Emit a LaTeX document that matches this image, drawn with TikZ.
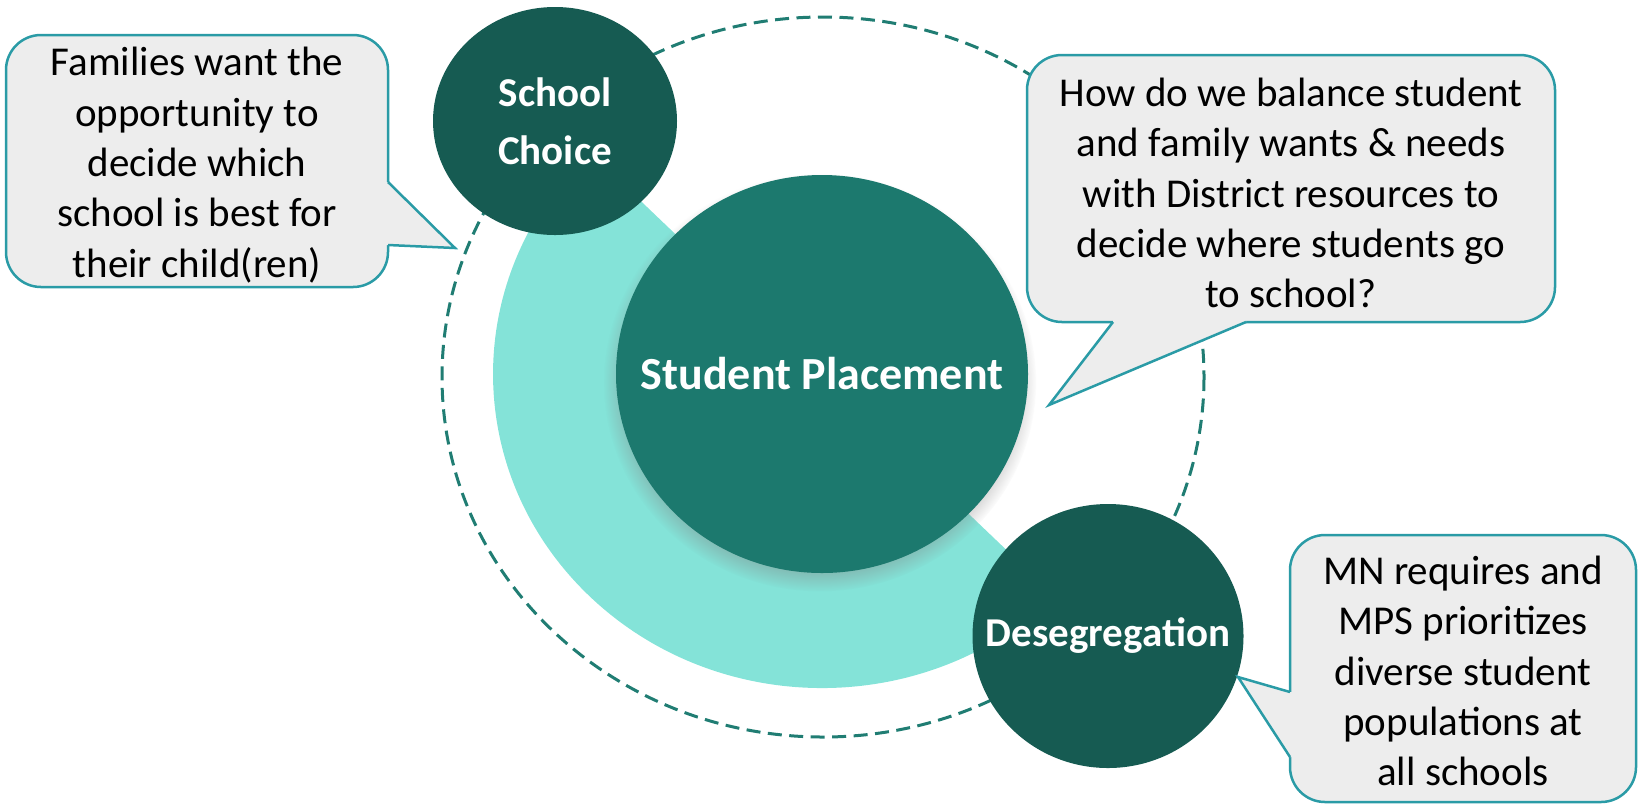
\documentclass[tikz,border=0pt]{standalone}
\usepackage{fontspec}
\setmainfont{Carlito}
\usetikzlibrary{shapes.geometric,shadows}
\definecolor{darkteal}{RGB}{22,91,82}
\definecolor{midteal}{RGB}{28,121,110}
\definecolor{lightteal}{RGB}{132,227,216}
\definecolor{dashteal}{RGB}{32,125,115}
\definecolor{bubbleline}{RGB}{42,155,166}
\definecolor{bubblefill}{RGB}{237,237,237}
\begin{document}
\begin{tikzpicture}[x=0.5pt,y=-0.5pt,
  bubble/.style={draw=bubbleline, fill=bubblefill, line width=1.25pt,
    rounded corners=17.5pt, inner sep=0pt},
  bubbletext/.style={align=center, text=black, inner sep=0pt,
    font=\fontsize{20.5}{25.2}\selectfont},
  tailfill/.style={fill=bubblefill},
  tailline/.style={draw=bubbleline, line width=1.25pt, line join=miter},
  topic/.style={ellipse, fill=darkteal, inner sep=0pt},
  topictext/.style={align=center, text=white, inner sep=0pt,
    font=\fontsize{20.5}{29}\selectfont\bfseries},
  hubstyle/.style={ellipse, fill=midteal, inner sep=0pt,
    circular drop shadow={shadow xshift=-1pt, shadow yshift=-4pt, shadow scale=1.05, opacity=0.6}},
  hubtext/.style={text=white, inner sep=0pt, font=\fontsize{23}{27}\selectfont\bfseries},
  ring/.style={draw=dashteal, line width=1.5pt, dash pattern=on 7pt off 3.75pt}
]
\useasboundingbox (0,0) rectangle (1642,805);

% dashed outer ring
\draw[ring] (823,377) ellipse [x radius=381, y radius=360];

% light teal half ring
\fill[lightteal] (589.4,152.0) arc[start angle=225, end angle=45, x radius=329, y radius=314]
  -- (928.1,475.1) arc[start angle=45, end angle=225, x radius=150, y radius=143] -- cycle;

% central hub
\node[hubstyle, minimum width=206pt, minimum height=199pt] (place) at (822,374) {};
\node[hubtext] (placeText) at (place.center) {Student Placement};

% topic circles
\node[topic, minimum width=122pt, minimum height=114pt] (choice) at (555,121) {};
\node[topictext] (choiceText) at (choice.center) {School\\Choice};
\node[topic, minimum width=135.5pt, minimum height=132pt] (deseg) at (1108,636) {};
\node[topictext] (desegText) at (deseg.center) {Desegregation};

% left callout
\node[bubble, minimum width=191pt, minimum height=126pt] (famBox) at (197,161) {};
\node[bubbletext] (famText) at (197,165)
  {Families want the\\opportunity to\\decide which\\school is best for\\their child(ren)};
\fill[tailfill] (385,182) -- (389.5,182) -- (455,248) -- (389.5,245) -- (385,245) -- cycle;
\draw[tailline] (388,182) -- (455,248) -- (388,245);

% top right callout
\node[bubble, minimum width=264pt, minimum height=133.5pt] (qBox) at (1291,188.5) {};
\node[bubbletext] (qText) at (1291,193)
  {How do we balance student\\and family wants \& needs\\with District resources to\\decide where students go\\to school?};
\fill[tailfill] (1113,319) -- (1246,319) -- (1246,322) -- (1049,405) -- (1113,322) -- cycle;
\draw[tailline] (1113,322) -- (1049,405) -- (1246,322);

% bottom right callout
\node[bubble, minimum width=173pt, minimum height=133.5pt] (mnBox) at (1463,668.5) {};
\node[bubbletext] (mnText) at (1463,671)
  {MN requires and\\MPS prioritizes\\diverse student\\populations at\\all schools};
\fill[tailfill] (1293,692) -- (1290,692) -- (1238,677) -- (1290,757) -- (1293,757) -- cycle;
\draw[tailline] (1290,692) -- (1238,677) -- (1290,757);
\end{tikzpicture}
\end{document}
